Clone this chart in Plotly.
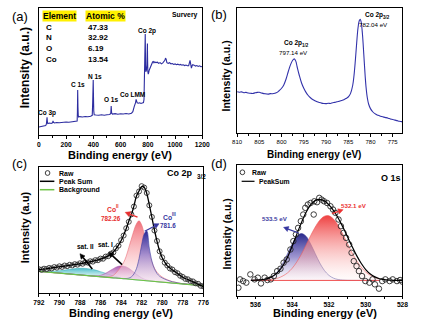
import plotly.graph_objects as go
import numpy as np

W, H = 424, 326
FONT = "Liberation Sans, Arial, Helvetica, sans-serif"

# ---------------- (a) survey spectrum ----------------
survey_be = [0, 10, 20, 30, 40, 50, 55, 58, 60, 62, 65, 70, 80, 90, 100, 104, 107, 115, 130, 150,
             170, 190, 200, 220, 240, 260, 275, 281, 283, 285, 287, 289, 292, 300, 320, 340, 360, 380,
             392, 395, 397, 399, 401, 403, 406, 420, 440, 460, 480, 500, 520, 528, 531, 534, 540, 560,
             580, 600, 620, 640, 660, 680, 690, 700, 706, 710, 714, 718, 722, 730, 740, 750, 760, 768,
             772, 775, 777, 779, 781, 782, 783, 785, 788, 790, 793, 795, 797, 798, 800, 803, 806, 810,
             815, 820, 825, 830, 835, 840, 845, 850, 860, 870, 880, 890, 900, 910, 918, 925, 930, 935,
             940, 950, 960, 970, 980, 990, 1000, 1010, 1020, 1030, 1040, 1050, 1060, 1070, 1080, 1090,
             1100, 1105, 1110, 1113, 1116, 1120, 1125, 1130, 1140, 1150, 1160, 1170, 1180, 1190, 1200]
survey_int = [6.3, 6.5, 6.8, 6.6, 7.0, 7.4, 8.5, 11, 13.9, 11, 9, 9.2, 9.4, 9.1, 9.6, 11, 10, 9.5, 9.8, 9.6,
              10, 9.9, 10.2, 10, 10.3, 10.1, 10.4, 11, 18, 35.4, 22, 15.5, 14.2, 14.5, 14.2, 14.6, 14.4, 14.8,
              15.5, 25, 37, 43.3, 30, 19, 16, 15.7, 15.5, 15.9, 15.6, 16, 16.2, 17, 22.8, 17.5, 16.5, 16.8,
              16.4, 16.7, 16.5, 16.9, 16.6, 17.2, 18.4, 22.3, 24, 25.5, 28.1, 26, 25.3, 25, 25.4, 24.8, 25.2, 25.5,
              28, 41, 50, 65, 79.5, 70, 55, 49.8, 50.5, 51, 55, 63, 72, 62, 50, 48, 49, 51,
              52.5, 54, 55.5, 56.4, 57.5, 57.8, 56.8, 57.5, 57, 57.3, 56.4, 57, 56, 56.8, 57.5, 58.8, 60.6, 59.5,
              57, 56.4, 56.9, 56, 56.3, 55.6, 56, 55.4, 55.8, 55.2, 55.6, 55, 55.3, 54.7, 55.1, 54.5,
              54.6, 56, 58.8, 57, 53, 52.7, 54.5, 55.4, 55, 54.3, 54.7, 54, 54.5, 53.8, 54]
table_elements = ["C", "N", "O", "Co"]
table_atomic = ["47.33", "32.92", "6.19", "13.54"]

# ---------------- (b) Co 2p high resolution ----------------
co2p_be = [810, 809.5, 809, 808.5, 808, 807.5, 807, 806.5, 806, 805.5, 805, 804.5, 804, 803.5, 803, 802.5,
           802, 801.5, 801, 800.5, 800, 799.5, 799, 798.5, 798, 797.5, 797.14, 796.8, 796.5, 796, 795.5,
           795, 794.5, 794, 793.5, 793, 792.5, 792, 791.5, 791, 790.5, 790, 789.5, 789, 788.5, 788, 787.5,
           787, 786.5, 786, 785.5, 785, 784.5, 784, 783.7, 783.4, 783.1, 782.8, 782.5, 782.3, 782.1, 781.8,
           781.5, 781.2, 781, 780.7, 780.4, 780, 779.5, 779, 778.5, 778, 777.5, 777, 776.5, 776, 775.5, 775,
           774.5, 774, 773.5, 773, 772.8]
co2p_int = [33, 32.6, 32.9, 32.2, 32.5, 32, 31.8, 31.6, 32.1, 32.5, 32.6, 32, 31.5, 31.3, 31.1, 31.5,
            31.4, 31.8, 32.5, 34, 35.8, 38.5, 43, 49, 54.5, 58.2, 59.3, 57.5, 53, 46, 40,
            35.8, 32.5, 30, 28.2, 26.8, 25.8, 25, 24.4, 23.9, 23.6, 23.5, 23.8, 23.6, 24.2, 24.5, 25,
            25.4, 26, 26.6, 27.6, 28.8, 31.5, 38, 46, 58, 72, 84, 90, 91, 89, 79,
            63, 46, 37, 28, 23, 19.5, 17, 15.5, 14.5, 13.8, 13.2, 12.7, 12.3, 11.8, 11.2, 10.8,
            10.3, 9.9, 9.4, 9.1, 8.9]

# ---------------- (c) Co 2p3/2 fit ----------------
c_be = [792, 791.75, 791.5, 791.25, 791, 790.75, 790.5, 790.25, 790, 789.75, 789.5, 789.25, 789, 788.75,
        788.5, 788.25, 788, 787.75, 787.5, 787.25, 787, 786.75, 786.5, 786.25, 786, 785.75, 785.5, 785.25,
        785, 784.75, 784.5, 784.25, 784, 783.75, 783.5, 783.25, 783, 782.75, 782.5, 782.25, 782, 781.75,
        781.5, 781.25, 781, 780.75, 780.5, 780.25, 780, 779.75, 779.5, 779.25, 779, 778.75, 778.5, 778.25,
        778, 777.75, 777.5, 777.25, 777, 776.75, 776.5, 776.25, 776]
c_raw = [18.9, 18.4, 19.3, 19.0, 19.9, 19.5, 20.6, 20.1, 21.2, 20.7,
         21.8, 21.3, 22.4, 21.9, 22.9, 22.5, 23.6, 23.2, 24.3, 24.1,
         25.2, 24.9, 26.1, 26.0, 27.3, 27.2, 28.9, 29.2, 31.1, 32.2,
         35.4, 37.6, 41.9, 45.6, 51.4, 56.5, 62.4, 68.6, 77.3, 80.6,
         84.8, 83.7, 79.4, 69.6, 60.4, 49.6, 41.3, 33.1, 28.3, 24.1,
         21.8, 19.5, 18.6, 16.5, 15.7, 13.7, 12.8, 11.2, 10.9, 9.5,
         9.2, 7.7, 7.3, 5.7, 5.3]
c_peaksum = [18.5, 18.8, 19.0, 19.3, 19.6, 19.9, 20.2, 20.5, 20.8, 21.1,
             21.4, 21.7, 22.0, 22.3, 22.6, 22.9, 23.2, 23.6, 24.0, 24.4,
             24.8, 25.3, 25.8, 26.3, 26.9, 27.6, 28.5, 29.5, 30.8, 32.5,
             35.0, 38.0, 41.5, 46.0, 51.0, 57.0, 62.0, 69.0, 77.0, 81.0,
             84.5, 84.0, 79.0, 70.0, 60.0, 50.0, 41.0, 33.5, 28.0, 24.5,
             21.5, 19.8, 18.3, 16.8, 15.4, 14.0, 12.5, 11.5, 10.6, 9.8,
             8.9, 8.0, 7.0, 6.0, 5.0]
c_background = [17.2, 17.0, 16.8, 16.7, 16.5, 16.3, 16.1, 16.0, 15.8, 15.6,
                15.4, 15.2, 15.1, 14.9, 14.7, 14.5, 14.4, 14.2, 14.0, 13.8,
                13.6, 13.5, 13.3, 13.1, 12.9, 12.8, 12.6, 12.4, 12.2, 12.0,
                11.9, 11.7, 11.5, 11.3, 11.2, 11.0, 10.8, 10.6, 10.4, 10.3,
                10.1, 9.9, 9.7, 9.6, 9.4, 9.2, 9.0, 8.8, 8.7, 8.5,
                8.3, 8.1, 7.9, 7.8, 7.6, 7.4, 7.2, 7.1, 6.9, 6.7,
                6.5, 6.3, 6.2, 6.0, 5.8]
c_sat2 = [0.2, 0.3, 0.4, 0.5, 0.7, 0.9, 1.2, 1.5, 1.9, 2.3,
          2.8, 3.3, 3.8, 4.2, 4.6, 5.0, 5.2, 5.4, 5.5, 5.5,
          5.4, 5.2, 4.9, 4.5, 4.0, 3.5, 3.0, 2.5, 2.0, 1.5,
          1.1, 0.8, 0.5, 0.3, 0.2, 0.1, 0, 0, 0, 0,
          0, 0, 0, 0, 0, 0, 0, 0, 0, 0,
          0, 0, 0, 0, 0, 0, 0, 0, 0, 0,
          0, 0, 0, 0, 0]
c_sat1 = [0, 0, 0, 0, 0, 0, 0, 0, 0, 0,
          0, 0, 0, 0, 0, 0, 0, 0, 0, 0,
          0, 0, 0.3, 0.6, 1.1, 1.9, 3.0, 4.4, 5.9, 7.3,
          8.6, 9.5, 10, 10, 9.5, 8.6, 7.3, 5.9, 4.4, 3.0,
          1.9, 1.1, 0.6, 0.3, 0.1, 0, 0, 0, 0, 0,
          0, 0, 0, 0, 0, 0, 0, 0, 0, 0,
          0, 0, 0, 0, 0]
c_co_red = [0, 0, 0, 0, 0, 0, 0, 0, 0, 0,
            0, 0, 0, 0, 0, 0, 0, 0, 0, 0,
            0, 0, 0, 0, 0, 0, 0, 0.5, 1, 2,
            4, 6.5, 9.5, 13, 18, 25, 32, 39, 44.5, 47,
            44, 37, 29, 21, 15, 10.5, 7.5, 5.5, 4, 3,
            2.2, 1.6, 1.1, 0.8, 0.5, 0.3, 0.2, 0.1, 0, 0,
            0, 0, 0, 0, 0]
c_co_blue = [0, 0, 0, 0, 0, 0, 0, 0, 0, 0,
             0, 0, 0, 0, 0, 0, 0, 0, 0, 0,
             0, 0, 0, 0, 0, 0, 0, 0, 0, 0,
             0, 0, 0, 0, 0.3, 0.8, 2, 4.5, 9, 17,
             28, 37, 39.5, 26, 16, 10, 6.5, 4.5, 3.3, 2.5,
             1.9, 1.4, 1.0, 0.7, 0.5, 0.3, 0.2, 0.1, 0, 0,
             0, 0, 0, 0, 0]

# ---------------- (d) O 1s fit ----------------
d_raw_be = [536.93, 536.84, 536.67, 536.5, 536.28, 536.05, 535.87, 535.7, 535.5, 535.35, 535.17, 535.0,
            534.82, 534.64, 534.47, 534.3, 534.1, 533.94, 533.8, 533.68, 533.53, 533.4, 533.29, 533.15,
            533.0, 532.83, 532.8, 532.65, 532.53, 532.4, 532.27, 532.1, 531.92, 531.78, 531.65, 531.48,
            531.35, 531.21, 531.07, 530.9, 530.77, 530.65, 530.5, 530.37, 530.2, 530.02, 529.8, 529.63,
            529.5, 529.28, 529.1, 528.93, 528.7, 528.53, 528.3, 528.13, 528.0]
d_raw = [6.3, 12.7, 11.4, 10.2, 16.5, 12.7, 14.0, 9.6, 14.0, 12.2, 12.7, 15.2,
         19.0, 20.8, 25.4, 27.9, 35.5, 41.9, 47.0, 52.0, 57.1, 62.2, 67.3, 69.8,
         71.0, 62.2, 72.3, 71.6, 74.9, 73.6, 72.3, 71.0, 68.5, 66.0, 63.5, 58.4,
         53.3, 48.2, 44.4, 39.3, 33.0, 26.6, 22.8, 19.0, 15.2, 11.4, 10.2, 12.7,
         8.9, 5.6, 11.4, 12.7, 11.4, 12.7, 11.4, 12.2, 10.9]
d_fit_be = [536.25, 536, 535.75, 535.5, 535.25, 535, 534.75, 534.5, 534.25, 534,
            533.75, 533.5, 533.25, 533, 532.75, 532.5, 532.25, 532, 531.75, 531.5, 531.25, 531,
            530.75, 530.5, 530.25, 530, 529.75, 529.5, 529.25, 529, 528.75, 528.5, 528.25, 528]
d_peaksum = [12.0, 12.1, 12.3, 12.8, 13.8, 15.6, 18.6, 23.3, 29.8, 38.2,
             47.2, 56.0, 63.8, 69.5, 72.8, 73.8, 72.6, 69.6, 65.2, 59.5, 52.8, 45.5,
             38.0, 31.0, 25.0, 20.2, 16.8, 14.6, 13.2, 12.5, 12.1, 12.0, 11.9, 11.9]
d_comp_be = [536.25, 536, 535.75, 535.5, 535.25, 535, 534.75, 534.5, 534.25, 534,
             533.75, 533.5, 533.25, 533, 532.75, 532.5, 532.25, 532, 531.75, 531.5,
             531.25, 531, 530.75, 530.5, 530.25, 530, 529.75, 529.5, 529.25]
d_baseline = 11.9
d_blue = [0.02, 0.07, 0.24, 0.68, 1.71, 3.84, 7.6, 13.3, 20.5, 27.9,
          33.7, 35.8, 33.7, 27.9, 20.5, 13.3, 7.6, 3.84, 1.71, 0.68,
          0.24, 0.07, 0.02, 0, 0, 0, 0, 0, 0]
d_red = [0.02, 0.04, 0.1, 0.24, 0.5, 1.0, 1.9, 3.5, 5.8, 9.3,
         14.1, 20, 26.9, 34.1, 40.7, 46, 49, 49.3, 46.8, 41.9,
         35.5, 28.3, 21.3, 15.2, 10.2, 6.4, 3.9, 2.2, 1.15]

# ======================================================
fig = go.Figure()

def P(x, y):
    return x / W, 1 - y / H

def fnt(size, color="black", bold=True):
    return dict(family=FONT, size=size, color=color, weight="bold" if bold else "normal")

# (a)
fig.add_trace(go.Scatter(x=survey_be, y=survey_int, mode="lines", xaxis="x", yaxis="y",
                         line=dict(color="rgb(45,45,160)", width=1.1)))
# (b)
fig.add_trace(go.Scatter(x=co2p_be, y=co2p_int, mode="lines", xaxis="x2", yaxis="y2",
                         line=dict(color="rgb(50,50,170)", width=1.1), line_shape="spline"))

# (c) components stacked on background
c_bg = np.array(c_background)
comps = [
    (c_sat2, [[0, "rgba(205,240,240,0.55)"], [1, "rgba(55,180,195,0.95)"]], 12, 20, "rgb(70,180,190)"),
    (c_sat1, [[0, "rgba(240,210,240,0.55)"], [1, "rgba(170,80,170,0.95)"]], 10, 21.5, "rgb(170,90,170)"),
    (c_co_red, [[0, "rgba(255,240,242,0.4)"], [1, "rgba(240,105,115,0.95)"]], 8, 57, "rgb(235,110,120)"),
    (c_co_blue, [[0, "rgba(240,215,235,0.4)"], [0.55, "rgba(150,130,205,0.85)"], [1, "rgb(40,40,150)"]], 8, 49, "rgb(60,60,160)"),
]
for comp, cs, s0, s1, lc in comps:
    fig.add_trace(go.Scatter(x=c_be, y=c_bg, mode="lines", xaxis="x3", yaxis="y3",
                             line=dict(width=0), hoverinfo="skip"))
    fig.add_trace(go.Scatter(x=c_be, y=c_bg + np.array(comp), mode="lines", xaxis="x3", yaxis="y3",
                             line=dict(color=lc, width=0.6), line_shape="spline", fill="tonexty",
                             fillgradient=dict(type="vertical", colorscale=cs, start=s0, stop=s1)))
fig.add_trace(go.Scatter(x=c_be, y=c_background, mode="lines", xaxis="x3", yaxis="y3",
                         line=dict(color="rgb(110,195,70)", width=1.2)))
fig.add_trace(go.Scatter(x=c_be, y=c_raw, mode="markers", xaxis="x3", yaxis="y3",
                         marker=dict(symbol="circle-open", size=5, color="rgb(50,50,50)",
                                     line=dict(width=0.9))))
fig.add_trace(go.Scatter(x=c_be, y=c_peaksum, mode="lines", xaxis="x3", yaxis="y3",
                         line=dict(color="black", width=1.3), line_shape="spline"))

# (d) components
d_bg = np.full(len(d_comp_be), d_baseline)
for comp, cs, s1, lc in [
    (d_blue, [[0, "rgba(245,240,250,0.4)"], [0.5, "rgba(140,130,200,0.85)"], [1, "rgb(40,40,140)"]], 47.7, "rgb(60,60,150)"),
    (d_red, [[0, "rgba(255,245,245,0.3)"], [1, "rgba(238,55,55,0.95)"]], 61.4, "rgb(240,90,90)"),
]:
    fig.add_trace(go.Scatter(x=d_comp_be, y=d_bg, mode="lines", xaxis="x4", yaxis="y4",
                             line=dict(width=0), hoverinfo="skip"))
    fig.add_trace(go.Scatter(x=d_comp_be, y=d_bg + np.array(comp), mode="lines", xaxis="x4", yaxis="y4",
                             line=dict(color=lc, width=0.6), line_shape="spline", fill="tonexty",
                             fillgradient=dict(type="vertical", colorscale=cs, start=d_baseline, stop=s1)))
fig.add_trace(go.Scatter(x=d_comp_be, y=d_bg, mode="lines", xaxis="x4", yaxis="y4",
                         line=dict(color="rgb(240,80,80)", width=1)))
fig.add_trace(go.Scatter(x=d_raw_be, y=d_raw, mode="markers", xaxis="x4", yaxis="y4",
                         marker=dict(symbol="circle-open", size=5.5, color="rgb(40,40,40)",
                                     line=dict(width=0.9))))
fig.add_trace(go.Scatter(x=d_fit_be, y=d_peaksum, mode="lines", xaxis="x4", yaxis="y4",
                         line=dict(color="black", width=1.2), line_shape="spline"))

# ---------------- axes ----------------
def xax(domain, anchor, rng, dtick, minor, tsize, bold=True, ticklen=3):
    return dict(domain=domain, anchor=anchor, range=rng, dtick=dtick, showline=True, mirror=True,
                linecolor="black", linewidth=1, ticks="outside", ticklen=ticklen, tickwidth=1,
                tickcolor="black", tickfont=fnt(tsize, bold=bold), showgrid=False, zeroline=False,
                minor=dict(dtick=minor, ticks="outside", ticklen=2, tickcolor="black", showgrid=False),
                fixedrange=True)

def yax(domain, anchor, rng):
    return dict(domain=domain, anchor=anchor, range=rng, showticklabels=False, ticks="",
                showline=True, mirror=True, linecolor="black", linewidth=1, showgrid=False,
                zeroline=False, fixedrange=True)

# pixel boxes of the four panels (left, right, top, bottom)
BOX = {"": (34, 203, 8, 135), "2": (239, 410, 8, 133), "3": (34, 204, 167, 293), "4": (239, 410, 165, 296)}
RNG = {"": ([0, 1200], [0, 100]), "2": ([810, 772.8], [0, 100]),
       "3": ([792, 776], [0, 100]), "4": ([537, 528], [0, 100])}

def dom(k):
    l, r, t, b = BOX[k]
    return [l / W, r / W], [1 - b / H, 1 - t / H]

fig.update_layout(
    xaxis=xax(dom("")[0], "y", RNG[""][0], 200, 100, 6.7),
    yaxis=yax(dom("")[1], "x", RNG[""][1]),
    xaxis2=xax(dom("2")[0], "y2", RNG["2"][0], 5, 2.5, 6, bold=False),
    yaxis2=yax(dom("2")[1], "x2", RNG["2"][1]),
    xaxis3=xax(dom("3")[0], "y3", RNG["3"][0], 2, 1, 6.7),
    yaxis3=yax(dom("3")[1], "x3", RNG["3"][1]),
    xaxis4=xax(dom("4")[0], "y4", RNG["4"][0], 2, 1, 6.7, ticklen=2),
    yaxis4=yax(dom("4")[1], "x4", RNG["4"][1]),
)

def to_px(k, e, v):
    l, r, t, b = BOX[k]
    (x0, x1), (y0, y1) = RNG[k]
    return l + (e - x0) / (x1 - x0) * (r - l), b - (v - y0) / (y1 - y0) * (b - t)

ann = []
shapes = []

def tpx(txt, x, y, size, color="black", bold=True, xanchor="center", angle=0, bg=None):
    xx, yy = P(x, y)
    d = dict(text=txt, x=xx, y=yy, xref="paper", yref="paper", showarrow=False, xanchor=xanchor,
             yanchor="middle", font=fnt(size, color, bold), textangle=angle)
    if bg:
        d.update(bgcolor=bg, borderpad=0)
    ann.append(d)

def tdata(txt, x, y, ax, size, color="black", bold=True):
    ann.append(dict(text=txt, x=x, y=y, xref="x" + ax, yref="y" + ax, showarrow=False,
                    xanchor="center", yanchor="middle", font=fnt(size, color, bold)))

def arrow(k, he, hv, te, tv, color, width=1.2, hl=5.0, hw=2.6):
    hx, hy = to_px(k, he, hv)
    tx, ty = to_px(k, te, tv)
    dx, dy = hx - tx, hy - ty
    n = (dx * dx + dy * dy) ** 0.5
    ux, uy = dx / n, dy / n
    bx, by = hx - ux * hl, hy - uy * hl
    px_, py_ = -uy, ux
    a, b_ = P(tx, ty)
    c, d = P(bx, by)
    shapes.append(dict(type="line", xref="paper", yref="paper", x0=a, y0=b_, x1=c, y1=d,
                       line=dict(color=color, width=width)))
    p1 = P(hx, hy)
    p2 = P(bx + px_ * hw, by + py_ * hw)
    p3 = P(bx - px_ * hw, by - py_ * hw)
    path = "M {} {} L {} {} L {} {} Z".format(p1[0], p1[1], p2[0], p2[1], p3[0], p3[1])
    shapes.append(dict(type="path", xref="paper", yref="paper", path=path, fillcolor=color,
                       line=dict(color=color, width=0.5)))

# panel letters
tpx("(a)", 14, 16, 13, bold=False)
tpx("(b)", 220, 15, 13, bold=False)
tpx("(c)", 14, 163, 13, bold=False)
tpx("(d)", 220, 163, 13, bold=False)

# axis titles
tpx("Binding energy (eV)", 118, 155, 11)
tpx("Binding energy (eV)", 318, 155, 10)
tpx("Binding energy (eV)", 119, 313, 11)
tpx("Binding energy (eV)", 330, 313, 11)
tpx("Intensity (a.u.)", 20, 68, 12, angle=-90)
tpx("Intensity (a.u.)", 228, 76, 10.5, angle=-90)
tpx("Intensity (a.u)", 20, 227, 11, angle=-90)
tpx("Intensity (a.u.)", 229, 234, 10.5, angle=-90)

# (a) table and peak labels
tpx("Element", 55, 16, 8.5, bg="rgb(255,240,0)")
tpx("Atomic %", 102.5, 16, 8.5, bg="rgb(255,240,0)")
for i, (el, at) in enumerate(zip(table_elements, table_atomic)):
    yy = [27.3, 37.5, 48.3, 59.3][i]
    tpx(el, 39, yy, 8, xanchor="left")
    tpx(at, 83, yy, 8, xanchor="left")
tdata("Survery", 1071, 94.5, "", 6.8)
tdata("Co 3p", 62, 17.3, "", 6.5)
tdata("C 1s", 287, 39.4, "", 6.5)
tdata("N 1s", 411, 46, "", 6.5)
tdata("O 1s", 533, 28.3, "", 6.5)
tdata("Co LMM", 686, 32, "", 6.5)
tdata("Co 2p", 791, 82.1, "", 6.5)

# (b) labels (sub/superscripts set as separate small texts)
tpx("Co 2p", 368.8, 15, 6.5, xanchor="left")
tpx("3/2", 388.2, 17.2, 4.5, xanchor="left")
tdata("782.04 eV", 779.3, 86.4, "2", 6.2, bold=False)
tpx("Co 2p", 285.0, 43.3, 6.5, xanchor="left")
tpx("1/2", 304.4, 45.5, 4.5, xanchor="left")
tdata("797.14 eV", 797.3, 64.2, "2", 6.2, bold=False)

# (c) labels
tpx("Co 2p", 164.5, 173, 9, xanchor="left")
tpx("3/2", 195.0, 176.5, 6.3, xanchor="left")
tpx("Co", 102.6, 209, 6.8, color="rgb(230,45,45)", xanchor="left")
tpx("II", 111.9, 206.3, 4.5, color="rgb(230,45,45)", xanchor="left")
tdata("782.26", 785.0, 59.5, "3", 6.3, color="rgb(230,45,45)")
tpx("Co", 160.4, 217, 6.8, color="rgb(55,55,160)", xanchor="left")
tpx("III", 169.7, 214.3, 4.5, color="rgb(55,55,160)", xanchor="left")
tdata("781.6", 779.4, 53.2, "3", 6.3, color="rgb(55,55,160)")
tdata("sat. II", 787.5, 37.3, "3", 6.5)
tdata("sat. I", 785.5, 38.3, "3", 6.5)
arrow("3", 783.6, 64.0, 782.4, 60.3, "rgb(230,45,45)", 1.3)
arrow("3", 780.3, 55.0, 781.7, 49.0, "rgb(55,55,160)", 1.3)
arrow("3", 788.0, 31.2, 786.8, 19.0, "black", 1.6)
arrow("3", 785.2, 32.3, 783.9, 22.5, "black", 1.6)

# (d) labels
tdata("O 1s", 528.6, 90.1, "4", 9)
tdata("533.5 eV", 534.96, 58.8, "4", 6.2, color="rgb(60,60,160)")
tdata("532.1 eV", 530.65, 69.2, "4", 6.2, color="rgb(235,50,50)")
arrow("4", 534.47, 52.4, 533.65, 48.1, "rgb(55,55,160)", 1.3)
arrow("4", 531.23, 65.9, 531.84, 62.8, "rgb(235,50,50)", 1.3)

# legends (c)
def circ(x, y, r=2.4):
    x0, y0 = P(x - r, y + r)
    x1, y1 = P(x + r, y - r)
    shapes.append(dict(type="circle", xref="paper", yref="paper", x0=x0, y0=y0, x1=x1, y1=y1,
                       line=dict(color="rgb(40,40,40)", width=0.9)))

def hline(xa, xb, y, color, width):
    x0, y0 = P(xa, y)
    x1, _ = P(xb, y)
    shapes.append(dict(type="line", xref="paper", yref="paper", x0=x0, y0=y0, x1=x1, y1=y0,
                       line=dict(color=color, width=width)))

circ(43, 173)
tpx("Raw", 53, 173, 7, xanchor="left")
hline(35, 50, 181.3, "black", 1.5)
tpx("Peak Sum", 53, 181.3, 7, xanchor="left")
hline(35, 50, 189.7, "rgb(110,195,70)", 1.5)
tpx("Background", 53, 189.7, 7, xanchor="left")

# legends (d)
circ(244.5, 172.3)
tpx("Raw", 252.7, 172.3, 6.8, xanchor="left")
hline(243.7, 257, 181.3, "black", 1.2)
tpx("PeakSum", 260, 181.3, 6.8, xanchor="left")

fig.update_layout(width=W, height=H, margin=dict(l=0, r=0, t=0, b=0), paper_bgcolor="white",
                  plot_bgcolor="white", showlegend=False, annotations=ann, shapes=shapes)

fig.write_html("out.html")
